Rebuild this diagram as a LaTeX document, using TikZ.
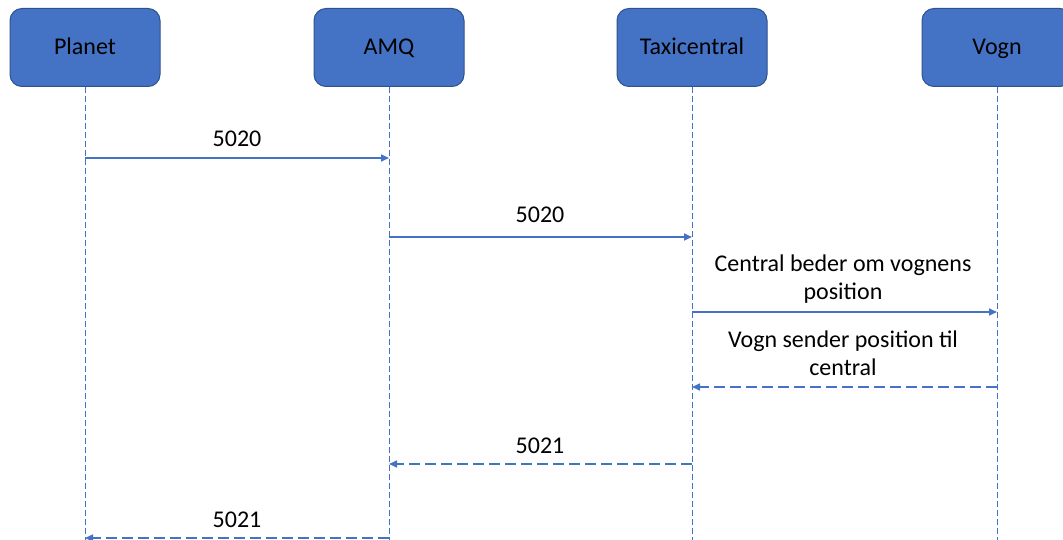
\documentclass[tikz,border=0pt]{standalone}
\usepackage{fontspec}
\setmainfont{Carlito}
\usetikzlibrary{arrows.meta,calc}
\definecolor{boxfill}{HTML}{4472C4}
\definecolor{boxedge}{HTML}{2F528F}
\definecolor{lineblue}{HTML}{4472C4}
\tikzset{
  actor/.style={draw=boxedge, line width=1pt, fill=boxfill, rounded corners=12pt,
    minimum width=150pt, minimum height=78pt, inner sep=0pt, font=\fontsize{24}{28}\selectfont, text=black,
    text height=17pt, text depth=2pt},
  lifeline/.style={draw=lineblue, line width=0.9pt, dash pattern=on 6pt off 3pt},
  msg/.style={draw=lineblue, line width=1.6pt, -{Triangle[length=8pt,width=7pt]}},
  reply/.style={draw=lineblue, line width=1.6pt, dash pattern=on 11pt off 5pt, -{Triangle[length=8pt,width=7pt]}},
  lbl/.style={font=\fontsize{24}{28}\selectfont, align=center, text=black, inner sep=0pt}
}
\begin{document}
\begin{tikzpicture}[x=1pt,y=-1pt]
\useasboundingbox (0,0) rectangle (1063,540);
\clip (0,0) rectangle (1063,540);
\node[actor] (planet) at (85,47.5) {Planet};
\node[actor] (amq) at (389,47.5) {AMQ};
\node[actor] (taxi) at (692,47.5) {Taxicentral};
\node[actor] (vogn) at (997,47.5) {Vogn};
\foreach \n in {planet,amq,taxi,vogn}{
  \coordinate (\n-end) at (\n.south |- 0,541);
  \draw[lifeline] (\n.south) -- (\n-end);
}
% message anchor points
\coordinate (p1) at (85,158);  \coordinate (a1) at (389,158);
\coordinate (a2) at (389,237); \coordinate (t2) at (692,237);
\coordinate (t3) at (692,312); \coordinate (v3) at (997,312);
\coordinate (v4) at (997,387); \coordinate (t4) at (692,387);
\coordinate (t5) at (692,464); \coordinate (a5) at (389,464);
\coordinate (a6) at (389,538); \coordinate (p6) at (85,538);

\draw[msg] (p1) -- (a1);
\node[lbl] (l1) at (237,139) {5020};
\draw[msg] (a2) -- (t2);
\node[lbl] (l2) at (540,215) {5020};
\draw[msg] (t3) -- (v3);
\node[lbl] (l3) at (843,279) {Central beder om vognens\\position};
\draw[reply] (v4) -- (t4);
\node[lbl] (l4) at (843,353) {Vogn sender position til\\central};
\draw[reply] (t5) -- (a5);
\node[lbl] (l5) at (540,446) {5021};
\draw[reply] (a6) -- (p6);
\node[lbl] (l6) at (237,520) {5021};
\end{tikzpicture}
\end{document}
